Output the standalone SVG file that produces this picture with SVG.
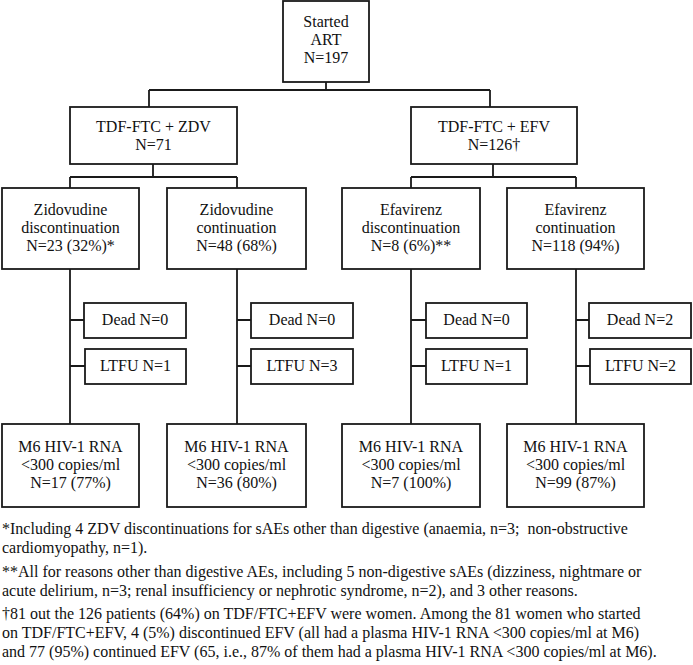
<svg xmlns="http://www.w3.org/2000/svg" width="693" height="665" viewBox="0 0 693 665">
<style>
.b{fill:#fff;stroke:#1a1a1a;stroke-width:1.8}
.c{fill:none;stroke:#1a1a1a;stroke-width:1.8}
text{font-family:'Liberation Serif','Times New Roman','DejaVu Serif',serif;font-size:16px;fill:#111}
.m{text-anchor:middle}
</style>
<rect width="693" height="665" fill="#fff"/>
<g id="connectors">
<path class="c" d="M326,82V90M149,90H490M149,90V107M490,90V107"/>
<path class="c" d="M153,164V177M70,177H237M70,177V188M237,177V188"/>
<path class="c" d="M493,164V177M411,177H576M411,177V188M576,177V188"/>
<path class="c" d="M70,269V424M70,320H84M70,366H85"/>
<path class="c" d="M237,269V424M237,320H251M237,366H251"/>
<path class="c" d="M411,269V424M411,320H426M411,366H426"/>
<path class="c" d="M576,269V424M576,320H589M576,366H590"/>
</g>
<g font-family="Liberation Serif, Times New Roman, serif">
<g id="start"><rect class="b" x="283" y="1" width="86" height="81"/>
<text class="m" x="326" y="27">Started</text><text class="m" x="326" y="45">ART</text><text class="m" x="326" y="63">N=197</text></g>
<g id="zdv"><rect class="b" x="70" y="107" width="167" height="57"/>
<text class="m" x="153.5" y="132">TDF-FTC + ZDV</text><text class="m" x="153.5" y="150">N=71</text></g>
<g id="efv"><rect class="b" x="411" y="107" width="166" height="57"/>
<text class="m" x="494" y="132">TDF-FTC + EFV</text><text class="m" x="494" y="150">N=126†</text></g>
<g id="zdv-disc"><rect class="b" x="2" y="188" width="137" height="81"/>
<text class="m" x="70.5" y="215">Zidovudine</text><text class="m" x="70.5" y="233">discontinuation</text><text class="m" x="70.5" y="251">N=23 (32%)*</text></g>
<g id="zdv-cont"><rect class="b" x="167" y="188" width="139" height="81"/>
<text class="m" x="236.5" y="215">Zidovudine</text><text class="m" x="236.5" y="233">continuation</text><text class="m" x="236.5" y="251">N=48 (68%)</text></g>
<g id="efv-disc"><rect class="b" x="342" y="188" width="138" height="81"/>
<text class="m" x="411" y="215">Efavirenz</text><text class="m" x="411" y="233">discontinuation</text><text class="m" x="411" y="251">N=8 (6%)**</text></g>
<g id="efv-cont"><rect class="b" x="507" y="188" width="137" height="81"/>
<text class="m" x="575.5" y="215">Efavirenz</text><text class="m" x="575.5" y="233">continuation</text><text class="m" x="575.5" y="251">N=118 (94%)</text></g>
<g id="dead1"><rect class="b" x="84" y="303" width="102" height="35"/><text class="m" x="135" y="325">Dead N=0</text></g>
<g id="ltfu1"><rect class="b" x="85" y="349" width="101" height="35"/><text class="m" x="135.5" y="371">LTFU N=1</text></g>
<g id="dead2"><rect class="b" x="251" y="303" width="102" height="35"/><text class="m" x="302" y="325">Dead N=0</text></g>
<g id="ltfu2"><rect class="b" x="251" y="349" width="102" height="35"/><text class="m" x="302" y="371">LTFU N=3</text></g>
<g id="dead3"><rect class="b" x="426" y="303" width="101" height="35"/><text class="m" x="476.5" y="325">Dead N=0</text></g>
<g id="ltfu3"><rect class="b" x="426" y="349" width="101" height="35"/><text class="m" x="476.5" y="371">LTFU N=1</text></g>
<g id="dead4"><rect class="b" x="589" y="303" width="102" height="35"/><text class="m" x="640" y="325">Dead N=2</text></g>
<g id="ltfu4"><rect class="b" x="590" y="349" width="101" height="35"/><text class="m" x="640.5" y="371">LTFU N=2</text></g>
<g id="rna1"><rect class="b" x="2" y="424" width="137" height="83"/>
<text class="m" x="70.5" y="452">M6 HIV-1 RNA</text><text class="m" x="70.5" y="470">&lt;300 copies/ml</text><text class="m" x="70.5" y="488">N=17 (77%)</text></g>
<g id="rna2"><rect class="b" x="167" y="424" width="139" height="83"/>
<text class="m" x="236.5" y="452">M6 HIV-1 RNA</text><text class="m" x="236.5" y="470">&lt;300 copies/ml</text><text class="m" x="236.5" y="488">N=36 (80%)</text></g>
<g id="rna3"><rect class="b" x="342" y="424" width="138" height="83"/>
<text class="m" x="411" y="452">M6 HIV-1 RNA</text><text class="m" x="411" y="470">&lt;300 copies/ml</text><text class="m" x="411" y="488">N=7 (100%)</text></g>
<g id="rna4"><rect class="b" x="507" y="424" width="137" height="83"/>
<text class="m" x="575.5" y="452">M6 HIV-1 RNA</text><text class="m" x="575.5" y="470">&lt;300 copies/ml</text><text class="m" x="575.5" y="488">N=99 (87%)</text></g>
<g id="footnotes">
<text x="2" y="534" xml:space="preserve">*Including 4 ZDV discontinuations for sAEs other than digestive (anaemia, n=3;  non-obstructive</text>
<text x="2" y="553">cardiomyopathy, n=1).</text>
<text x="2" y="577">**All for reasons other than digestive AEs, including 5 non-digestive sAEs (dizziness, nightmare or</text>
<text x="2" y="596">acute delirium, n=3; renal insufficiency or nephrotic syndrome, n=2), and 3 other reasons.</text>
<text x="2" y="619">†81 out the 126 patients (64%) on TDF/FTC+EFV were women. Among the 81 women who started</text>
<text x="2" y="638">on TDF/FTC+EFV, 4 (5%) discontinued EFV (all had a plasma HIV-1 RNA &lt;300 copies/ml at M6)</text>
<text x="2" y="657">and 77 (95%) continued EFV (65, i.e., 87% of them had a plasma HIV-1 RNA &lt;300 copies/ml at M6).</text>
</g>
</g>
</svg>
